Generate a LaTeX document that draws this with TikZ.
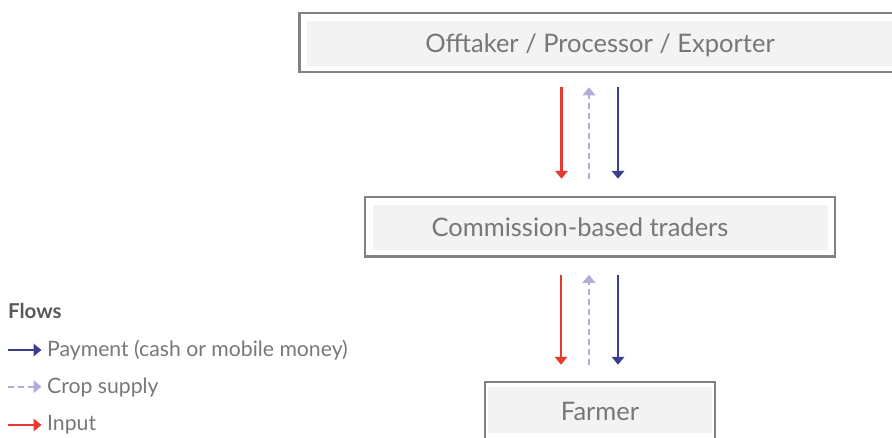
\documentclass[tikz,border=0pt]{standalone}
\usepackage{fontspec}
\setmainfont{Lato}
\usetikzlibrary{arrows.meta}
\definecolor{boxline}{HTML}{808285}
\definecolor{boxfill}{HTML}{F3F3F3}
\definecolor{labelgray}{HTML}{76777A}
\definecolor{headgray}{HTML}{58595B}
\definecolor{inputred}{HTML}{E8392F}
\definecolor{paynavy}{HTML}{3B3E8F}
\definecolor{croplilac}{HTML}{B1ADD6}
\begin{document}
\begin{tikzpicture}[x=1pt,y=-1pt,
  stagebox/.style={draw=boxline, line width=2.5pt, fill=white, inner sep=0pt},
  stagefill/.style={fill=boxfill},
  stagelabel/.style={text=labelgray, font=\fontsize{25.5}{30}\selectfont, inner sep=0pt, anchor=base},
  flow/.style={line width=2.4pt, -{Triangle[width=12.5pt,length=8pt]}},
  inputflow/.style={flow, color=inputred},
  payflow/.style={flow, color=paynavy},
  cropflow/.style={flow, color=croplilac, dash pattern=on 6pt off 4pt},
  legendtext/.style={text=labelgray, font=\fontsize{21.2}{25}\selectfont, inner sep=0pt, anchor=base west},
  legendhead/.style={text=headgray, font=\bfseries\fontsize{20.5}{24}\selectfont, inner sep=0pt, anchor=base west}]
\useasboundingbox (0,0) rectangle (892,437);
\clip (0,0) rectangle (892,437);

% stages of the chain
\node[stagebox, minimum width=601pt, minimum height=59pt] (top) at (600,42.5) {};
\fill[stagefill] (307,21) rectangle (893,66);
\node[stagelabel] (toplabel) at (600,52.7) {Offtaker / Processor / Exporter};

\node[stagebox, minimum width=470pt, minimum height=59.5pt] (mid) at (600,226.75) {};
\fill[stagefill] (373,205) rectangle (828,250);
\node[stagelabel] (midlabel) at (580,236.7) {Commission-based traders};

\node[stagebox, minimum width=230pt, minimum height=59pt] (farm) at (600,411.5) {};
\fill[stagefill] (488,387) rectangle (712,433);
\node[stagelabel] (farmlabel) at (600,420.7) {Farmer};

% flows between offtaker and traders
\draw[inputflow] ([xshift=-38.5pt,yshift=-14pt]top.south) -- ([xshift=-38.5pt,yshift=17pt]mid.north);
\draw[cropflow]  ([xshift=-11pt,yshift=17pt]mid.north) -- ([xshift=-11pt,yshift=-14pt]top.south);
\draw[payflow]   ([xshift=18pt,yshift=-14pt]top.south) -- ([xshift=18pt,yshift=17pt]mid.north);

% flows between traders and farmer
\draw[inputflow] ([xshift=-39pt,yshift=-17pt]mid.south) -- ([xshift=-39pt,yshift=16pt]farm.north);
\draw[cropflow]  ([xshift=-11pt,yshift=16pt]farm.north) -- ([xshift=-11pt,yshift=-17pt]mid.south);
\draw[payflow]   ([xshift=18pt,yshift=-17pt]mid.south) -- ([xshift=18pt,yshift=16pt]farm.north);

% legend
\node[legendhead] (flows) at (8,318.3) {Flows};
\coordinate (payA) at (8,350);   \coordinate (payB) at (41.5,350);
\coordinate (cropA) at (8,386.7); \coordinate (cropB) at (41.5,386.7);
\coordinate (inA) at (8,425);    \coordinate (inB) at (41.5,425);
\draw[payflow] (payA) -- (payB);
\draw[cropflow] (cropA) -- (cropB);
\draw[inputflow] (inA) -- (inB);
\node[legendtext] (paylabel) at (47,356.7) {Payment (cash or mobile money)};
\node[legendtext] (croplabel) at (47,393.3) {Crop supply};
\node[legendtext] (inlabel) at (47,430) {Input};
\end{tikzpicture}
\end{document}
